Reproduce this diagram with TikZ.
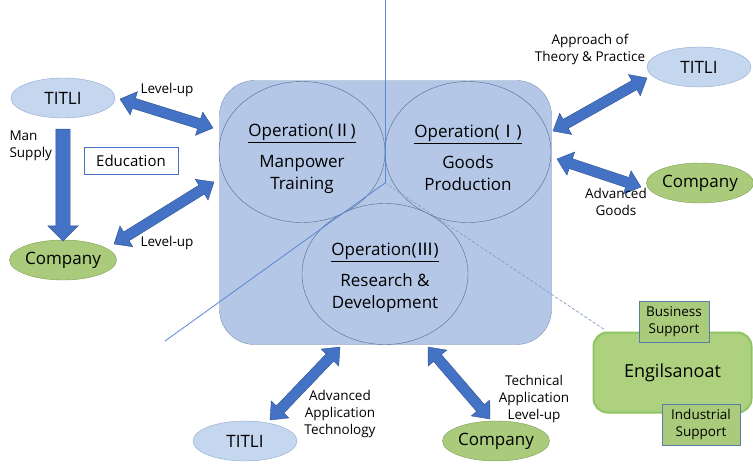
\documentclass[tikz,border=0pt]{standalone}
\usepackage{fontspec}
\setmainfont{Open Sans}
\newfontfamily\cjk{Noto Sans CJK KR}
\usetikzlibrary{shapes.geometric,shapes.arrows,calc}

\definecolor{hubfill}{HTML}{B4C7E7}
\definecolor{hubline}{HTML}{7D93B8}
\definecolor{opline}{HTML}{52698F}
\definecolor{titlifill}{HTML}{C5D6EF}
\definecolor{titliline}{HTML}{8FA8D0}
\definecolor{compfill}{HTML}{A9CB7B}
\definecolor{compline}{HTML}{7E9E52}
\definecolor{arrowfill}{HTML}{4472C4}
\definecolor{arrowline}{HTML}{2F528F}
\definecolor{sepline}{HTML}{5B86D0}
\definecolor{dashline}{HTML}{8CA2C6}
\definecolor{engfill}{HTML}{ADD17F}
\definecolor{engline}{HTML}{8FC464}
\definecolor{suppline}{HTML}{5A7CA6}

\tikzset{
  titli/.style={ellipse, draw=titliline, fill=titlifill, minimum width=104pt, minimum height=40pt, inner sep=0pt, font=\fontsize{17}{20}\selectfont},
  company/.style={titli, draw=compline, fill=compfill},
  opcircle/.style={ellipse, draw=opline, fill=hubfill, minimum width=166pt, minimum height=141pt},
  optext/.style={align=center, font=\fontsize{17}{22}\selectfont},
  lbl/.style={align=center, font=\fontsize{13.5}{17}\selectfont},
  bigarrow/.style={double arrow, draw=arrowline, fill=arrowfill, inner sep=5pt, double arrow head extend=7pt, double arrow tip angle=80},
  suppbox/.style={draw=suppline, fill=compfill, line width=0.8pt, align=center, font=\fontsize{13.5}{17}\selectfont}
}

\newcommand\fatarrow[2]{%
  \path let \p1=($(#2)-(#1)$), \n1={atan2(\y1,\x1)}, \n2={veclen(\x1,\y1)} in
    node[bigarrow, rotate=\n1, minimum height=\n2] at ($(#1)!0.5!(#2)$) {};}

\begin{document}
\begin{tikzpicture}[x=1pt,y=-1pt]
\useasboundingbox (0,0) rectangle (753,464);

% centre box with the three operations
\node[draw=hubline, fill=hubfill, rounded corners=35pt, minimum width=332pt, minimum height=264pt] (hub) at (385.5,212.5) {};
\node[opcircle] (op2) at (302,152) {};
\node[opcircle] (op1) at (468,152) {};
\node[opcircle] (op3) at (385,274) {};

\node[optext] at ($(op2)+(0,7)$) {\underline{Operation({\cjk Ⅱ})}\\[9pt]Manpower\\Training};
\node[optext] at ($(op1)+(0,6)$) {\underline{Operation({\cjk Ⅰ})}\\[9pt]Goods\\Production};
\node[optext] at ($(op3)+(0,4)$) {\underline{Operation({\cjk Ⅲ})}\\[9pt]Research \&\\Development};

% dividing lines
\coordinate (mid) at (385,183);
\coordinate (top) at (385,0);
\coordinate (lowleft) at (165,341);
\coordinate (lowright) at (605,330);
\draw[sepline, line width=0.8pt] (mid) -- (top);
\draw[sepline, line width=0.8pt] (mid) -- (lowleft);
\draw[dashline, line width=0.8pt, dash pattern=on 3pt off 2pt] (mid) -- (lowright);

% outer partners
\node[titli] (titliL) at (63,98) {TITLI};
\node[company] (compL) at (63,260) {Company};
\node[titli] (titliR) at (699,67) {TITLI};
\node[company] (compR) at (700,183) {Company};
\node[titli] (titliB) at (245,441) {TITLI};
\node[company] (compB) at (496,441) {Company};

\node[draw=arrowfill, fill=white, minimum width=94pt, minimum height=27pt, font=\fontsize{15}{18}\selectfont] (edu) at (131,160.5) {Education};
\node[lbl, align=left, anchor=west] (manlbl) at (6,146) {Man\\Supply};

% man supply
\node[single arrow, draw=arrowline, fill=arrowfill, inner sep=7pt, single arrow head extend=8pt, minimum height=112pt, rotate=-90] (supply) at (63,181.5) {};

% double arrows
\coordinate (a1s) at (120,99);  \coordinate (a1e) at (213,128);
\coordinate (a2s) at (114,244); \coordinate (a2e) at (214,182);
\coordinate (a3s) at (553,131); \coordinate (a3e) at (647,78);
\coordinate (a4s) at (557,159); \coordinate (a4e) at (641,187);
\coordinate (a5s) at (270,420); \coordinate (a5e) at (340,347);
\coordinate (a6s) at (428,347); \coordinate (a6e) at (490,419);
\fatarrow{a1s}{a1e}
\fatarrow{a2s}{a2e}
\fatarrow{a3s}{a3e}
\fatarrow{a4s}{a4e}
\fatarrow{a5s}{a5e}
\fatarrow{a6s}{a6e}

\node[lbl] at (167,90) {Level-up};
\node[lbl] at (167,243) {Level-up};
\node[lbl] at (590,49) {Approach of\\Theory \& Practice};
\node[lbl] at (616,202) {Advanced\\Goods};
\node[lbl] at (340,414) {Advanced\\Application\\Technology};
\node[lbl] at (534,399) {Technical\\Application\\Level-up};

% Engilsanoat
\node[draw=engline, fill=engfill, line width=2pt, rounded corners=14pt, minimum width=158pt, minimum height=80pt, font=\fontsize{18}{22}\selectfont] (eng) at (672.5,372.5) {Engilsanoat};
\node[suppbox, minimum width=70pt, minimum height=41pt] (biz) at (674,321.5) {Business\\Support};
\node[suppbox, minimum width=78pt, minimum height=41pt] (ind) at (701,424.5) {Industrial\\Support};

\end{tikzpicture}
\end{document}
